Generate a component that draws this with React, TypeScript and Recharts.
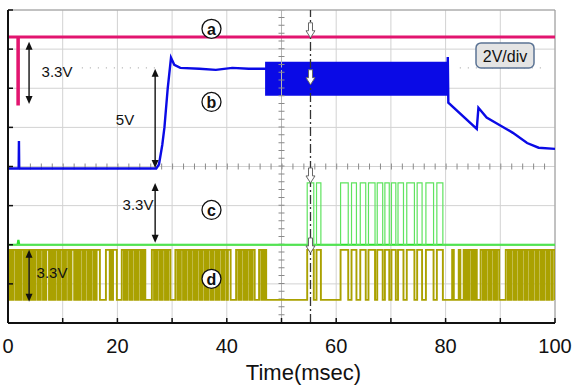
import React from "react";
import {
  CartesianGrid,
  Line,
  LineChart,
  ReferenceArea,
  ReferenceDot,
  ReferenceLine,
  XAxis,
  YAxis,
} from "recharts";

const FONT = "'Liberation Sans', Arial, sans-serif";

// time axis (msec) and screen divisions (2V/div, 8 divisions)
const TIME_TICKS = [0, 10, 20, 30, 40, 50, 60, 70, 80, 90, 100];
const DIV_TICKS = [0, 1, 2, 3, 4, 5, 6, 7, 8];

// (a) magenta trace: [msec, div]
const traceA = [
  [0, 7.31], [1.8, 7.31], [1.8, 5.6], [1.9, 5.6], [1.9, 7.31], [100, 7.31],
];

// (b) blue trace
const traceB = [
  [0, 3.95], [1.95, 3.95], [2.0, 4.65], [2.05, 3.95], [27.1, 3.95], [27.6, 4.05],
  [28.2, 4.55], [28.6, 5.0], [29.2, 6.0], [29.8, 6.78], [30.4, 6.6], [31.5, 6.52],
  [35, 6.5], [38, 6.47], [41, 6.52], [44, 6.5], [47, 6.5], [80.35, 6.5], [80.4, 6.8],
  [80.5, 5.63], [85.7, 4.96], [86.0, 5.5], [87.5, 5.25], [90, 5.05], [92.3, 4.86],
  [94.9, 4.6], [97, 4.48], [100, 4.45],
];
const bandBTime = [47, 80.4];
const bandBDiv = [5.81, 6.68];

// (c) green trace
const C_LO = 2.0;
const C_HI = 3.58;
const traceCBase = [[0, 2.0], [1.75, 2.0], [1.9, 2.12], [2.05, 2.0], [100, 2.0]];
const cPulses = [
  [54.7, 55.9], [56.4, 57.2], [60.8, 62.2], [62.8, 63.7], [64.4, 65.4], [65.9, 67.1],
  [67.5, 68.5], [68.9, 69.7], [70.1, 70.9], [71.3, 72.3], [72.9, 74.3], [74.8, 75.7],
  [76.4, 77.8], [78.4, 79.5],
];

// (d) olive trace
const D_LO = 0.59;
const D_HI = 1.87;
const dEarly = [
  [0.1, 0.4], [0.6, 0.8], [1.0, 1.4], [1.6, 1.8], [2.0, 2.3], [2.5, 2.9], [3.1, 3.3],
  [3.5, 3.9], [4.1, 4.3], [4.5, 4.8], [5.0, 5.4], [5.6, 5.8], [6.0, 6.4], [6.6, 6.8],
  [7.0, 7.5], [7.7, 7.9], [8.1, 8.4], [8.6, 9.0], [9.2, 9.4], [9.6, 10.0], [10.2, 10.4],
  [10.6, 11.0], [11.2, 11.4], [11.6, 12.1], [12.3, 12.5], [12.7, 13.0], [13.2, 13.6],
  [13.8, 14.0], [14.2, 14.6], [14.8, 15.0], [15.2, 15.6], [15.8, 16.0], [16.2, 16.8],
  [17.9, 18.6], [18.8, 19.0], [19.2, 19.9],
  [20.8, 21.2], [21.4, 21.6], [21.8, 22.2], [22.4, 22.6], [22.8, 23.2], [23.4, 23.6],
  [23.8, 24.2], [24.4, 24.6], [24.8, 25.1],
  [26.3, 26.7], [26.9, 27.1], [27.3, 27.7], [27.9, 28.1], [28.3, 28.7], [28.9, 29.1],
  [29.3, 29.7],
  [30.6, 31.0], [31.2, 31.4], [31.6, 32.0], [32.2, 32.4], [32.6, 33.0], [33.2, 33.4],
  [33.6, 34.0], [34.2, 34.4], [34.6, 35.0], [35.2, 35.4], [35.6, 36.0], [36.2, 36.4],
  [36.6, 37.0], [37.2, 37.4], [37.6, 38.0], [38.2, 38.4], [38.6, 39.0], [39.2, 39.4],
  [39.6, 40.0], [40.2, 40.7],
  [41.7, 42.1], [42.3, 42.5], [42.7, 43.1], [43.3, 43.5], [43.7, 44.1], [44.3, 44.5],
  [44.7, 45.1],
  [45.9, 46.3], [46.5, 46.7], [46.9, 47.2],
];
const dLate = [
  [81.2, 81.5], [82.4, 82.7], [83.3, 83.6], [83.9, 84.2], [84.4, 84.8], [85.0, 85.2],
  [85.4, 85.7], [86.4, 86.8], [87.0, 87.2], [87.4, 87.8], [88.0, 88.2], [88.4, 88.8],
  [89.0, 89.2], [89.4, 89.8], [91.0, 91.4], [91.6, 91.8], [92.0, 92.4], [92.6, 92.8],
  [93.0, 93.4], [93.6, 93.8], [94.0, 94.4], [94.6, 94.8], [95.0, 95.4], [95.6, 95.8],
  [96.0, 96.4], [96.6, 96.8], [97.0, 97.4], [97.6, 97.8], [98.0, 98.4], [98.6, 98.8],
  [99.0, 99.4], [99.6, 100],
];

const CURSOR_T = 55.3;
const cursorTips = [7.29, 6.09, 3.58, 1.79];

const toPts = (arr: number[][]) => arr.map(([t, v]) => ({ t, v }));

const square = (highs: number[][], lo: number, hi: number) => {
  const pts = [{ t: 0, v: lo }];
  highs.forEach(([r, f]) => {
    pts.push({ t: r, v: lo }, { t: r, v: hi }, { t: f, v: hi }, { t: f, v: lo });
  });
  pts.push({ t: 100, v: lo });
  return pts;
};

const dataA = toPts(traceA);
const dataB = toPts(traceB);
const dataCBase = toPts(traceCBase);
const dataC = square(cPulses, C_LO, C_HI);
const dataD = square([...dEarly, ...cPulses, ...dLate], D_LO, D_HI);

const XTick = (p: any) => {
  const { x, y, payload } = p;
  return (
    <g>
      <line x1={x} x2={x} y1={y} y2={y - 5} stroke="#111" strokeWidth={1.5} />
      {payload.value % 20 === 0 && (
        <text x={x} y={y + 30} textAnchor="middle" fontSize={20} fontFamily={FONT} fill="#111">
          {payload.value}
        </text>
      )}
    </g>
  );
};

const YTick = (p: any) => (
  <line x1={p.x} x2={p.x + 5} y1={p.y} y2={p.y} stroke="#111" strokeWidth={1.5} />
);

const DoubleArrow = (p: any) => {
  const { x1, y1, y2 } = p;
  const top = Math.min(y1, y2);
  const bot = Math.max(y1, y2);
  return (
    <g>
      <line x1={x1} x2={x1} y1={top + 4} y2={bot - 4} stroke="#111" strokeWidth={1.4} />
      <path d={`M${x1 - 3.5},${top + 8}L${x1},${top}L${x1 + 3.5},${top + 8}Z`} fill="#111" />
      <path d={`M${x1 - 3.5},${bot - 8}L${x1},${bot}L${x1 + 3.5},${bot - 8}Z`} fill="#111" />
    </g>
  );
};

const textMark = (label: string) => (p: any) => (
  <text x={p.cx} y={p.cy} textAnchor="middle" dominantBaseline="central" fontSize={15} fontFamily={FONT} fill="#111">
    {label}
  </text>
);

const circled = (ch: string) => (p: any) => (
  <g>
    <circle cx={p.cx} cy={p.cy} r={9.5} fill="#fff" stroke="#111" strokeWidth={1.3} />
    <text x={p.cx} y={p.cy + 1} textAnchor="middle" dominantBaseline="central" fontSize={16} fontWeight="bold" fontFamily={FONT} fill="#111">
      {ch}
    </text>
  </g>
);

const scaleBox = (p: any) => (
  <g>
    <rect x={p.cx - 29} y={p.cy - 12.5} width={58} height={25} rx={5} fill="#e4e4e4" stroke="#5b7394" strokeWidth={1.5} />
    <text x={p.cx} y={p.cy + 1} textAnchor="middle" dominantBaseline="central" fontSize={16} fontFamily={FONT} fill="#111">
      2V/div
    </text>
  </g>
);

const cursorArrow = (p: any) => {
  const { cx, cy } = p;
  return (
    <path
      d={`M${cx - 2},${cy - 15}L${cx - 2},${cy - 7}L${cx - 4.5},${cy - 7}L${cx},${cy}L${cx + 4.5},${cy - 7}L${cx + 2},${cy - 7}L${cx + 2},${cy - 15}Z`}
      fill="#fff"
      stroke="#666"
      strokeWidth={1}
    />
  );
};

export default function App() {
  return (
    <div style={{ position: "absolute", left: 0, top: 0, width: 572, height: 386, background: "#fff" }}>
      <LineChart width={572} height={386} margin={{ top: 10, right: 17, left: 7, bottom: 0 }}>
        <CartesianGrid stroke="#d2d2d2" strokeWidth={1} />
        <XAxis
          type="number"
          dataKey="t"
          domain={[0, 100]}
          ticks={TIME_TICKS}
          height={63}
          tickSize={0}
          tickMargin={0}
          tick={<XTick />}
          axisLine={{ stroke: "#111", strokeWidth: 2 }}
          tickLine={false}
          allowDataOverflow
        />
        <YAxis
          type="number"
          dataKey="v"
          domain={[0, 8]}
          ticks={DIV_TICKS}
          width={1}
          tickSize={0}
          tickMargin={0}
          tick={<YTick />}
          axisLine={{ stroke: "#111", strokeWidth: 2 }}
          tickLine={false}
          allowDataOverflow
        />
        <ReferenceLine y={8} stroke="#9a9a9a" />
        <ReferenceLine x={100} stroke="#9a9a9a" />
        <ReferenceLine x={50} stroke="#b5b5b5" />
        <ReferenceLine x={50} stroke="#8a8a8a" strokeWidth={6} strokeDasharray="1 6.82" />
        <ReferenceLine y={4} stroke="#8a8a8a" strokeWidth={6} strokeDasharray="1 9.94" />
        <ReferenceLine segment={[{ x: 13.5, y: 6.52 }, { x: 27.8, y: 6.52 }]} stroke="#9a9a9a" strokeDasharray="1 7" />
        <ReferenceLine segment={[{ x: 82.6, y: 6.52 }, { x: 98.5, y: 6.52 }]} stroke="#9a9a9a" strokeDasharray="1 7" />

        <Line data={dataD} dataKey="v" type="linear" stroke="#aaa100" strokeWidth={1.9} dot={false} isAnimationActive={false} />
        <Line data={dataCBase} dataKey="v" type="linear" stroke="#2fe02f" strokeWidth={2.2} dot={false} isAnimationActive={false} />
        <Line data={dataC} dataKey="v" type="linear" stroke="#5fe35f" strokeWidth={1.2} dot={false} isAnimationActive={false} />
        <Line data={dataB} dataKey="v" type="linear" stroke="#0a0ae6" strokeWidth={2.4} dot={false} isAnimationActive={false} />
        <ReferenceArea x1={bandBTime[0]} x2={bandBTime[1]} y1={bandBDiv[0]} y2={bandBDiv[1]} fill="#0a0ae6" fillOpacity={1} stroke="none" />
        <Line data={dataA} dataKey="v" type="linear" stroke="#e2156f" strokeWidth={3} dot={false} isAnimationActive={false} />

        <ReferenceLine x={CURSOR_T} stroke="#333" strokeWidth={1.3} strokeDasharray="9 3 2 3" />
        {cursorTips.map((v, i) => (
          <ReferenceDot key={`cur-${i}`} x={CURSOR_T} y={v} r={1} shape={cursorArrow} />
        ))}

        <ReferenceLine segment={[{ x: 3.85, y: 7.19 }, { x: 3.85, y: 5.6 }]} shape={DoubleArrow} />
        <ReferenceLine segment={[{ x: 26.9, y: 6.5 }, { x: 26.9, y: 3.96 }]} shape={DoubleArrow} />
        <ReferenceLine segment={[{ x: 26.9, y: 3.58 }, { x: 26.9, y: 2.05 }]} shape={DoubleArrow} />
        <ReferenceLine segment={[{ x: 3.85, y: 1.87 }, { x: 3.85, y: 0.54 }]} shape={DoubleArrow} />

        <ReferenceDot x={8.96} y={6.42} r={1} shape={textMark("3.3V")} />
        <ReferenceDot x={21.39} y={5.19} r={1} shape={textMark("5V")} />
        <ReferenceDot x={23.77} y={3.04} r={1} shape={textMark("3.3V")} />
        <ReferenceDot x={8.04} y={1.28} r={1} shape={textMark("3.3V")} />

        <ReferenceDot x={37.2} y={7.52} r={1} shape={circled("a")} />
        <ReferenceDot x={37.2} y={5.65} r={1} shape={circled("b")} />
        <ReferenceDot x={37.2} y={2.89} r={1} shape={circled("c")} />
        <ReferenceDot x={37.2} y={1.13} r={1} shape={circled("d")} />
        <ReferenceDot x={90.86} y={6.84} r={1} shape={scaleBox} />
      </LineChart>
      <svg width={572} height={386} style={{ position: "absolute", left: 0, top: 0, pointerEvents: "none" }}>
        <text x={303.5} y={380} textAnchor="middle" fontSize={22} fontFamily={FONT} fill="#111">
          Time(msec)
        </text>
      </svg>
    </div>
  );
}
